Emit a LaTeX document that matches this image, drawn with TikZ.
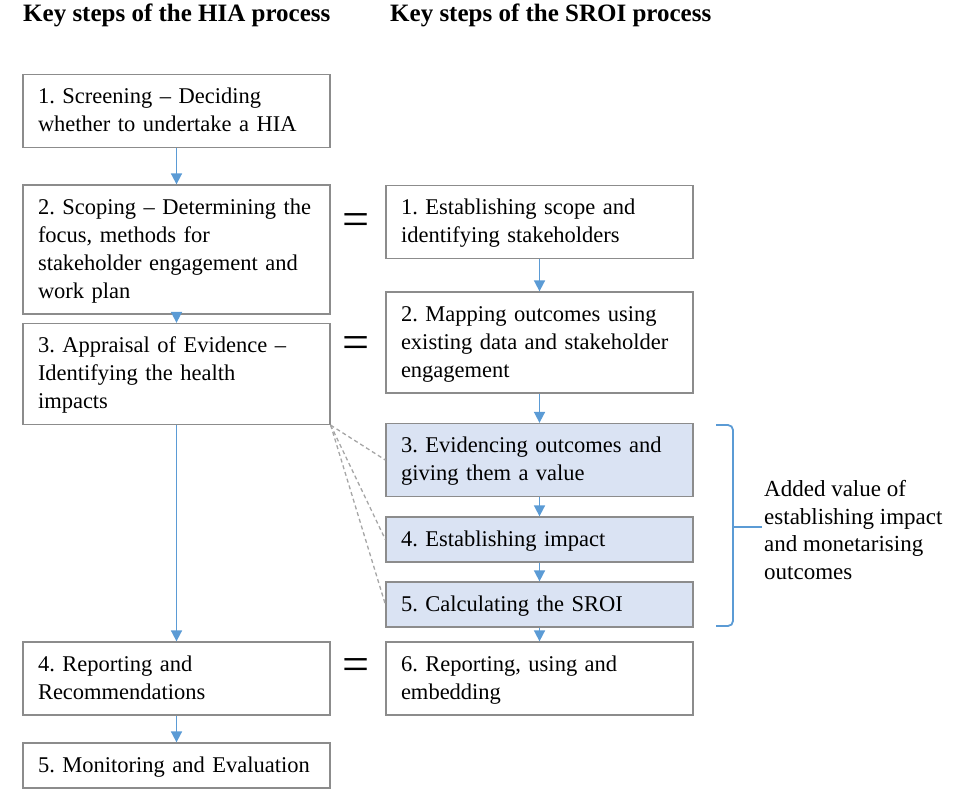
\documentclass[tikz,border=0pt]{standalone}
\usepackage{fontspec}
\setmainfont{Liberation Serif}
\usetikzlibrary{arrows.meta}
\definecolor{stepblue}{HTML}{5B9BD5}
\definecolor{stepfill}{HTML}{DAE3F3}
\definecolor{stepgray}{HTML}{8C8C8C}
\definecolor{linkgray}{HTML}{A6A6A6}
\newcommand\boxstrut{\rule[-5pt]{0pt}{23pt}}

\begin{document}
\frenchspacing
\begin{tikzpicture}[x=1pt, y=-1pt,
    box/.style={draw=stepgray, line width=1.3pt, rectangle, fill=white, text width=277pt, inner xsep=15pt, inner ysep=11pt, align=left, execute at begin node=\boxstrut, execute at end node=\boxstrut, font=\fontsize{22.5}{28}\selectfont},
    shaded/.style={box, fill=stepfill},
    flow/.style={stepblue, line width=1.7pt, -{Triangle[width=11pt,length=11pt]}},
    link/.style={linkgray, line width=1.3pt, dash pattern=on 4pt off 3pt},
    head/.style={font=\fontsize{25}{28}\selectfont\bfseries, inner sep=0pt, anchor=base west},
    eq/.style={font=\fontsize{48}{48}\selectfont, inner sep=0pt}]
\useasboundingbox (0,0) rectangle (957,804);

\node[head] (HH) at (23,21) {Key steps of the HIA process};
\node[head] (HS) at (390,21) {Key steps of the SROI process};

\node[box] (H1) at (176.5,111) {1. Screening -- Deciding\\whether to undertake a HIA};
\node[box] (H2) at (176.5,249.5) {2. Scoping -- Determining the\\focus, methods for\\stakeholder engagement and\\work plan};
\node[box] (H3) at (176.5,374) {3. Appraisal of Evidence --\\Identifying the health\\impacts};
\node[box] (H4) at (176.5,678.5) {4. Reporting and\\Recommendations};
\node[box] (H5) at (176.5,765.5) {5. Monitoring and Evaluation};

\node[box] (S1) at (539.5,222) {1. Establishing scope and\\identifying stakeholders};
\node[box] (S2) at (539.5,342.5) {2. Mapping outcomes using\\existing data and stakeholder\\engagement};
\node[shaded] (S3) at (539.5,460) {3. Evidencing outcomes and\\giving them a value};
\node[shaded] (S4) at (539.5,539.5) {4. Establishing impact};
\node[shaded] (S5) at (539.5,604.5) {5. Calculating the SROI};
\node[box] (S6) at (539.5,678.5) {6. Reporting, using and\\embedding};

\node[eq] (E1) at (356,225) {=};
\node[eq] (E2) at (356,348) {=};
\node[eq] (E3) at (356,670) {=};

\draw[flow] (H1) -- (H2);
\draw[flow] (H2) -- (H3);
\draw[flow] (H3) -- (H4);
\draw[flow] (H4) -- (H5);
\draw[flow] (S1) -- (S2);
\draw[flow] (S2) -- (S3);
\draw[flow] (S3) -- (S4);
\draw[flow] (S4) -- (S5);
\draw[flow] (S5) -- (S6);

\draw[link] (H3.south east) -- (S3.west);
\draw[link] (H3.south east) -- (S4.west);
\draw[link] (H3.south east) -- (S5.west);

\draw[stepblue, line width=1.8pt, rounded corners=5pt] (716,425) -- (733,425) -- (733,626) -- (716,626);
\draw[stepblue, line width=1.8pt] (733,527) -- (762,527);
\node[anchor=west, inner sep=0pt, align=left, font=\fontsize{23}{27.5}\selectfont] (AV) at (764,530) {Added value of\\establishing impact\\and monetarising\\outcomes};
\end{tikzpicture}
\end{document}
